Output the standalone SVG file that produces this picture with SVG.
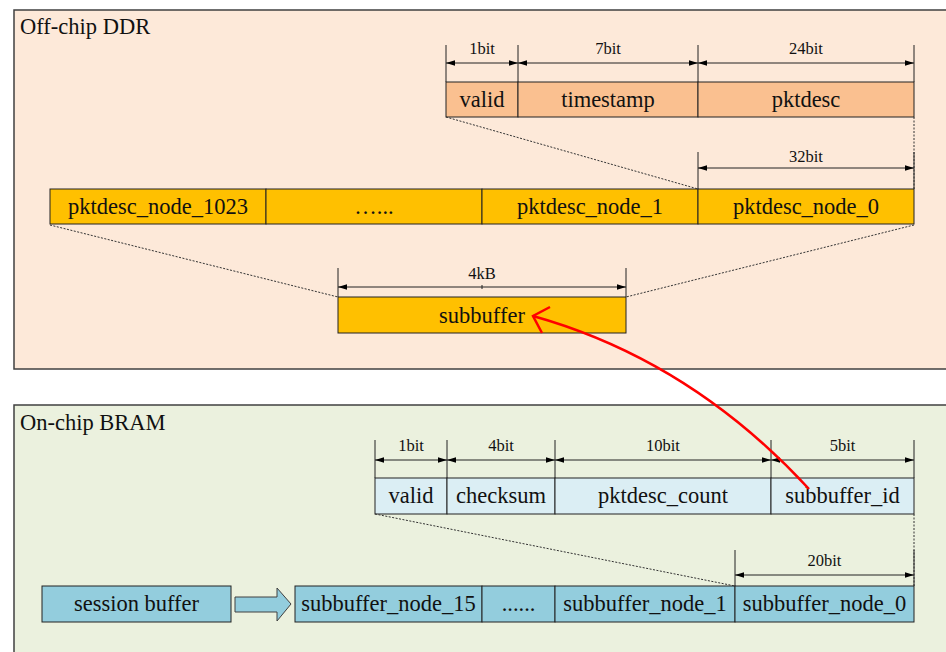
<svg xmlns="http://www.w3.org/2000/svg" width="946" height="652" viewBox="0 0 946 652">
<defs>
<marker id="ah" viewBox="0 0 10 6" refX="10" refY="3" markerWidth="9" markerHeight="5.4" markerUnits="userSpaceOnUse" orient="auto-start-reverse">
<path d="M0,0 L10,3 L0,6 Z" fill="#000"/>
</marker>
<style>
text{font-family:"Liberation Serif","Times New Roman",serif;fill:#111;}
.f{font-size:22.5px;text-anchor:middle;}
.d{font-size:16.5px;text-anchor:middle;}
.t{font-size:22.5px;}
.cell{stroke:#222;stroke-width:1;}
.peach{fill:#fac090;}
.gold{fill:#ffc000;}
.lb{fill:#dbeef4;}
.aq{fill:#93cddd;}
.tick{stroke:#222;stroke-width:1;fill:none;}
.dim{stroke:#222;stroke-width:1;fill:none;marker-start:url(#ah);marker-end:url(#ah);}
.dash{stroke:#333;stroke-width:1;stroke-dasharray:2,1.5;fill:none;}
</style>
</defs>
<rect width="946" height="652" fill="#fff"/>

<g id="panel-ddr">
<rect x="14" y="10" width="940" height="359" fill="#fde9d9" stroke="#404040" stroke-width="1.5"/>
<text class="t" x="20" y="34">Off-chip DDR</text>
</g>
<g id="panel-bram">
<rect x="14" y="405" width="940" height="260" fill="#ebf1de" stroke="#404040" stroke-width="1.5"/>
<text class="t" x="20" y="430">On-chip BRAM</text>
</g>

<g id="pktdesc-fields">
<rect class="cell peach" x="446" y="82" width="72" height="35"/>
<rect class="cell peach" x="518" y="82" width="180" height="35"/>
<rect class="cell peach" x="698" y="82" width="216" height="35"/>
<text class="f" x="482" y="107">valid</text>
<text class="f" x="608" y="107">timestamp</text>
<text class="f" x="806" y="107">pktdesc</text>
<path class="tick" d="M446,45V82M518,45V82M698,45V82M914,45V82"/>
<path class="dim" d="M446,63H518"/>
<path class="dim" d="M518,63H698"/>
<path class="dim" d="M698,63H914"/>
<text class="d" x="482" y="54">1bit</text>
<text class="d" x="608" y="54">7bit</text>
<text class="d" x="806" y="54">24bit</text>
</g>

<g id="pktdesc-nodes">
<rect class="cell gold" x="50" y="189" width="216" height="35"/>
<rect class="cell gold" x="266" y="189" width="216" height="35"/>
<rect class="cell gold" x="482" y="189" width="216" height="35"/>
<rect class="cell gold" x="698" y="189" width="216" height="35"/>
<text class="f" x="158" y="214">pktdesc_node_1023</text>
<text class="f" x="374" y="214">…...</text>
<text class="f" x="590" y="214">pktdesc_node_1</text>
<text class="f" x="806" y="214">pktdesc_node_0</text>
<path class="tick" d="M698,152V189M914,152V189"/>
<path class="dim" d="M698,168H914"/>
<text class="d" x="806" y="162">32bit</text>
</g>

<g id="subbuffer">
<rect class="cell gold" x="338" y="297" width="288" height="36"/>
<text class="f" x="482" y="323">subbuffer</text>
<path class="tick" d="M338,268V297M626,268V297M482,285V289"/>
<path class="dim" d="M338,287H626"/>
<text class="d" x="482" y="279">4kB</text>
</g>

<g id="subbuffer-fields">
<rect class="cell lb" x="375" y="478" width="72" height="36"/>
<rect class="cell lb" x="447" y="478" width="108" height="36"/>
<rect class="cell lb" x="555" y="478" width="216" height="36"/>
<rect class="cell lb" x="771" y="478" width="143" height="36"/>
<text class="f" x="411" y="503">valid</text>
<text class="f" x="501" y="503">checksum</text>
<text class="f" x="663" y="503">pktdesc_count</text>
<text class="f" x="842.5" y="503">subbuffer_id</text>
<path class="tick" d="M375,440V478M447,440V478M555,440V478M771,440V478M914,440V478"/>
<path class="dim" d="M375,460H447"/>
<path class="dim" d="M447,460H555"/>
<path class="dim" d="M555,460H771"/>
<path class="dim" d="M771,460H914"/>
<text class="d" x="411" y="451">1bit</text>
<text class="d" x="501" y="451">4bit</text>
<text class="d" x="663" y="451">10bit</text>
<text class="d" x="842.5" y="451">5bit</text>
</g>

<g id="session-buffer">
<rect class="cell aq" x="42" y="586" width="189" height="36"/>
<text class="f" x="136.5" y="611">session buffer</text>
</g>

<g id="subbuffer-nodes">
<rect class="cell aq" x="295" y="586" width="187" height="36"/>
<rect class="cell aq" x="482" y="586" width="73" height="36"/>
<rect class="cell aq" x="555" y="586" width="180" height="36"/>
<rect class="cell aq" x="735" y="586" width="179" height="36"/>
<text class="f" x="388.5" y="611">subbuffer_node_15</text>
<text class="f" x="518.5" y="611">......</text>
<text class="f" x="645" y="611">subbuffer_node_1</text>
<text class="f" x="824.5" y="611">subbuffer_node_0</text>
<path class="tick" d="M735,550V586M914,550V586"/>
<path class="dim" d="M735,575H914"/>
<text class="d" x="824.5" y="566">20bit</text>
</g>

<g id="connectors">
<path class="dash" d="M446,117L698,189M914,117V189"/>
<path class="dash" d="M50,225L338,297M914,225L626,297"/>
<path class="dash" d="M375,514L735,586M914,514V586"/>
<path d="M235,597H277V588L291,604L277,621V612H235Z" fill="#93cddd" stroke="#404040" stroke-width="1"/>
<path d="M809,489Q690,360 533,316" fill="none" stroke="#ff0000" stroke-width="2.5"/>
<path d="M550,307L533,316L542,333" fill="none" stroke="#ff0000" stroke-width="2.5" stroke-linejoin="miter"/>
</g>
</svg>
